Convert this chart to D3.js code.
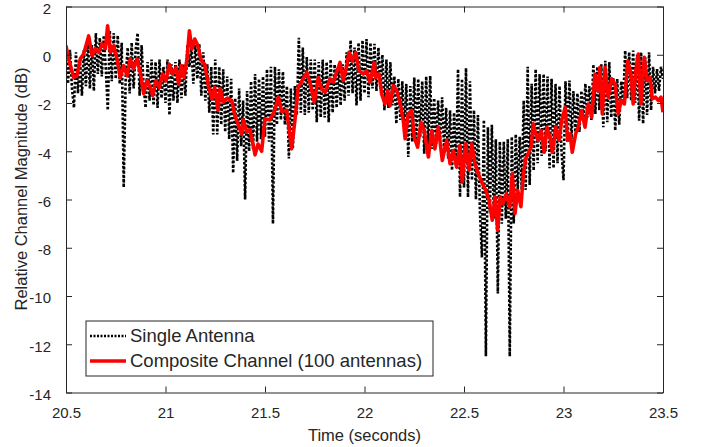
<!DOCTYPE html>
<html>
<head>
<meta charset="utf-8">
<script src="https://cdn.jsdelivr.net/npm/d3@7/dist/d3.min.js"></script>
<style>
  body { margin: 0; background: #fff; }
  svg text { font-family: "Liberation Sans", Arial, Helvetica, sans-serif; fill: #262626; }
</style>
</head>
<body>
<div id="chart"></div>
<script>
// x axis ticks and y axis ticks
var xTicks = [20.5, 21, 21.5, 22, 22.5, 23, 23.5];
var yTicks = [-14, -12, -10, -8, -6, -4, -2, 0, 2];

// single antenna, sampled every 0.01 s starting at 20.5 s
var singleStart = 20.5, singleStep = 0.01;
var singleDb = [
  0.4, -1.2, 0.2, -1.4, -2.2,   0.1, -1.6, -0.2, -1.7, 0.2,
  -1.3, 0.6, -1.4, 0.4, -1.5,   0.9, -0.8, 0.7, -0.9, 0.8,
  -0.6, -2.3, 1.0, -1.1, 0.9,   -1.0, 0.8, -1.2, 0.5, -5.5,
  -0.9, 0.3, -1.6, 0.5, -1.4,   0.2, 0.9, -1.7, 0.4, -1.3,
  -2.2, -0.3, -1.9, -0.2, -2.1, -0.3, -2.2, -0.2, -1.8, -0.5,
  -2.0, -0.2, -2.5, -0.4, -1.9, -0.3, -2.0, -0.2, -1.8, -0.4,
  -1.7, 0.4, -0.5, 0.3, -1.2,   0.4, -1.0, 0.45, -1.7, 0.1,
  -1.9, -0.4, -2.4, -0.5, -3.3, -0.2, -3.3, -0.5, -2.9, -0.6,
  -3.2, -0.9, -3.5, -1.0, -4.9, -1.8, -4.4, -1.4, -3.8, -1.9,
  -6.0, -1.5, -4.0, -1.1, -3.9, -0.8, -3.6, -1.0, -3.5, -0.9,
  -3.4, -0.6, -3.6, -0.5, -7.0, -0.5, -2.9, -0.6, -2.7, -0.7,
  -2.9, -1.3, -4.3, -1.4, -3.9, -1.3, -2.5, 0.7, -2.4, 0.3,
  -2.5, -0.1, -2.4, -0.2, -2.3, -0.2, -2.8, -0.3, -2.6, -0.2,
  -2.6, -0.3, -2.8, -0.2, -2.4, -0.4, -2.2, -0.5, -2.1, -0.4,
  -1.9, 0.1, -1.7, 0.6, -1.6,   0.3, -2.1, 0.5, -1.9, 0.6,
  -1.6, 0.65, -1.76, 0.5, -1.4, 0.45, -1.5, 0.3, -1.4, 0.0,
  -2.3, -0.2, -2.2, -0.3, -2.1, -0.9, -2.86, -1.0, -2.7, -1.1,
  -3.2, -1.2, -4.24, -1.3, -3.6, -0.94, -3.55, -1.0, -3.4, -1.1,
  -4.1, -0.9, -3.8, -0.87, -3.9, -1.8, -3.7, -1.9, -3.5, -1.76,
  -4.0, -2.2, -4.3, -2.3, -4.79, -2.4, -4.6, -0.6, -5.9, -1.0,
  -5.5, -0.55, -5.9, -1.1, -5.2, -2.3, -6.0, -2.5, -6.5, -8.4,
  -2.7, -12.5, -3.0, -6.5, -2.9, -6.8, -3.5, -9.9, -3.6, -7.0,
  -3.6, -6.8, -3.5, -12.5, -3.4, -7.0, -3.3, -5.6, -3.4, -5.6,
  -1.9, -5.6, -0.5, -5.4, -1.2, -4.8, -0.6, -4.5, -0.8, -4.2,
  -0.8, -4.0, -0.9, -4.7, -1.0, -4.7, -1.2, -4.5, -1.3, -4.0,
  -5.2, -1.1, -3.6, -1.07, -3.5, -1.5, -3.3, -1.6, -3.2, -1.5,
  -2.7, -1.2, -2.6, -1.3, -2.7, -0.4, -2.45, -0.5, -2.3, -0.4,
  -3.0, -0.25, -2.8, -0.3, -2.6, -0.94, -3.14, -1.0, -2.9, -1.1,
  -1.9, 0.17, -1.8, 0.1, -1.9,  0.17, -2.0, 0.0, -2.73, 0.1,
  -2.86, -0.1, -2.5, 0.1, -2.3, -0.5, -1.6, -0.6, -1.5, -0.5,
  -1.0
];

// composite channel (100 antennas)
var compositeTime = [
  20.5, 20.513, 20.539, 20.555, 20.572, 20.589, 20.614, 20.631, 20.647, 20.664,
  20.681, 20.698, 20.709, 20.723, 20.74, 20.756, 20.773, 20.79, 20.807, 20.823,
  20.84, 20.857, 20.873, 20.89, 20.907, 20.919, 20.935, 20.952, 20.969, 20.986,
  21.003, 21.019, 21.036, 21.053, 21.066, 21.079, 21.093, 21.108, 21.12, 21.133,
  21.147, 21.163, 21.18, 21.197, 21.217, 21.234, 21.247, 21.264, 21.275, 21.29,
  21.31, 21.333, 21.349, 21.383, 21.391, 21.408, 21.425, 21.45, 21.465, 21.483,
  21.5, 21.525, 21.547, 21.567, 21.584, 21.609, 21.634, 21.651, 21.667, 21.692,
  21.71, 21.726, 21.748, 21.768, 21.785, 21.802, 21.827, 21.843, 21.86, 21.877,
  21.893, 21.911, 21.922, 21.939, 21.956, 21.972, 21.994, 22.011, 22.028, 22.049,
  22.056, 22.073, 22.086, 22.103, 22.117, 22.128, 22.145, 22.162, 22.178, 22.195,
  22.204, 22.22, 22.237, 22.25, 22.267, 22.284, 22.3, 22.321, 22.338, 22.354,
  22.371, 22.391, 22.413, 22.43, 22.446, 22.463, 22.48, 22.491, 22.508, 22.525,
  22.539, 22.555, 22.572, 22.589, 22.609, 22.626, 22.642, 22.656, 22.669, 22.682,
  22.696, 22.713, 22.73, 22.743, 22.756, 22.77, 22.786, 22.798, 22.81, 22.823,
  22.837, 22.848, 22.86, 22.873, 22.887, 22.903, 22.916, 22.932, 22.944, 22.961,
  22.977, 22.991, 23.008, 23.021, 23.033, 23.044, 23.061, 23.074, 23.091, 23.108,
  23.125, 23.142, 23.158, 23.172, 23.183, 23.195, 23.209, 23.225, 23.242, 23.259,
  23.275, 23.289, 23.306, 23.323, 23.339, 23.35, 23.363, 23.376, 23.389, 23.406,
  23.42, 23.435, 23.446, 23.462, 23.477, 23.49, 23.5
];
var compositeDb = [
  0.37, -0.18, -0.94, -0.87, -0.17, 0.04, 0.78, -0.04, 0.25, 0.1,
  0.45, 0.25, 1.2, 0.1, 0.37, -0.17, -0.94, -0.45, -0.87, -0.17,
  -0.58, -0.17, -0.73, -1.6, -1.07, -1.28, -1.69, -1.07, -1.35, -0.8,
  -1.07, -0.39, -0.8, -0.52, -1.21, -0.45, -0.94, -0.18, 0.99, 0.24,
  0.65, 0.37, -0.25, -0.39, -1.35, -1.83, -1.35, -2.3, -1.4, -1.97,
  -1.8, -1.9, -2.52, -3.3, -2.7, -3.2, -3.1, -4.15, -3.7, -4.0,
  -2.65, -2.7, -2.35, -1.76, -2.35, -2.3, -3.9, -2.66, -1.35, -1.0,
  -0.73, -1.14, -1.97, -0.94, -1.42, -1.56, -1.0, -1.14, -0.73, -0.32,
  -1.07, -0.45, 0.1, -0.25, 0.1, -0.66, -0.8, -0.66, -1.14, -0.32,
  -0.94, -0.8, -1.62, -2.04, -1.49, -2.11, -1.28, -1.49, -1.97, -2.73,
  -3.48, -2.45, -2.31, -3.42, -3.83, -2.8, -3.14, -4.24, -3.14, -3.9,
  -3.0, -4.38, -3.55, -4.52, -3.97, -4.66, -3.76, -5.28, -3.69, -4.79,
  -3.69, -4.52, -4.93, -5.28, -5.62, -6.03, -6.86, -5.9, -7.27, -5.9,
  -6.17, -5.76, -6.31, -4.93, -6.58, -5.62, -6.3, -5.0, -4.3, -4.1,
  -3.83, -2.86, -3.28, -3.55, -3.14, -4.04, -3.0, -3.42, -4.04, -3.0,
  -3.55, -2.73, -2.18, -3.55, -3.28, -4.04, -3.28, -3.0, -2.31, -3.0,
  -2.04, -2.59, -0.8, -1.49, -0.52, -2.45, -0.52, -1.76, -1.0, -1.21,
  -2.45, -1.9, -2.04, -0.25, -0.8, -2.04, -0.66, 0.03, -2.04, -0.11,
  -1.07, -0.94, -1.83, -1.76, -1.9, -1.76, -2.38
];

var width = 707, height = 447;
var margin = { left: 66, right: 44, top: 6.5, bottom: 54.5 };
var plotW = width - margin.left - margin.right;
var plotH = height - margin.top - margin.bottom;

var svg = d3.select("#chart")
  .append("svg")
  .attr("width", width)
  .attr("height", height);

var g = svg.append("g")
  .attr("transform", `translate(${margin.left}, ${margin.top})`);

var x = d3.scaleLinear().domain([20.5, 23.5]).range([0, plotW]);
var y = d3.scaleLinear().domain([-14, 2]).range([plotH, 0]);

g.append("clipPath").attr("id", "plot-clip")
  .append("rect")
  .attr("width", plotW)
  .attr("height", plotH);

// lines
var singleLine = d3.line()
  .x(function (d, i) { return x(singleStart + i * singleStep); })
  .y(function (d) { return y(d); });

var compositeLine = d3.line()
  .x(function (d, i) { return x(compositeTime[i]); })
  .y(function (d) { return y(d); });

var lines = g.append("g").attr("clip-path", "url(#plot-clip)");

lines.append("path")
  .datum(singleDb)
  .attr("d", singleLine)
  .attr("fill", "none")
  .attr("stroke", "#000")
  .attr("stroke-width", 2.6)
  .attr("stroke-dasharray", "2.6,1.8");

lines.append("path")
  .datum(compositeDb)
  .attr("d", compositeLine)
  .attr("fill", "none")
  .attr("stroke", "#ff0000")
  .attr("stroke-width", 3.6)
  .attr("stroke-linejoin", "round");

// axes, MATLAB style: ticks inside, box on
var tickFmt = function (d) { return String(d); };

var xAxis = g.append("g")
  .attr("transform", `translate(0, ${plotH})`)
  .call(d3.axisBottom(x).tickValues(xTicks).tickFormat(tickFmt).tickSizeInner(-6).tickSizeOuter(0).tickPadding(15));
var xTop = g.append("g")
  .call(d3.axisTop(x).tickValues(xTicks).tickFormat("").tickSizeInner(-6).tickSizeOuter(0));
var yAxis = g.append("g")
  .call(d3.axisLeft(y).tickValues(yTicks).tickFormat(tickFmt).tickSizeInner(-6).tickSizeOuter(0).tickPadding(15));
var yRight = g.append("g")
  .attr("transform", `translate(${plotW}, 0)`)
  .call(d3.axisRight(y).tickValues(yTicks).tickFormat("").tickSizeInner(-6).tickSizeOuter(0));

[xAxis, xTop, yAxis, yRight].forEach(function (a) {
  a.selectAll("path.domain").attr("stroke", "#262626").attr("stroke-width", 1);
  a.selectAll(".tick line").attr("stroke", "#262626").attr("stroke-width", 1);
  a.selectAll(".tick text")
    .style("font-size", "15px")
    .style("font-family", "'Liberation Sans', Arial, Helvetica, sans-serif")
    .attr("fill", "#262626");
});
// labels sit a touch below their ticks, as in the original
yAxis.selectAll(".tick text").attr("dy", "0.45em");

// axis labels
svg.append("text")
  .attr("x", margin.left + plotW / 2)
  .attr("y", 441)
  .attr("text-anchor", "middle")
  .style("font-size", "16.5px")
  .text("Time (seconds)");

svg.append("text")
  .attr("transform", "translate(27, 189) rotate(-90)")
  .attr("text-anchor", "middle")
  .style("font-size", "16.5px")
  .text("Relative Channel Magnitude (dB)");

// legend
var legend = svg.append("g").attr("transform", "translate(86, 321)");
legend.append("rect")
  .attr("width", 347)
  .attr("height", 55)
  .attr("fill", "#fff")
  .attr("stroke", "#262626")
  .attr("stroke-width", 1);

var legendItems = [
  { label: "Single Antenna", color: "#000", width: 2.4, dash: "2,1.5" },
  { label: "Composite Channel (100 antennas)", color: "#ff0000", width: 3.6, dash: null }
];

legendItems.forEach(function (d, i) {
  var cy = 15 + i * 25;
  legend.append("line")
    .attr("x1", 4).attr("x2", 40)
    .attr("y1", cy).attr("y2", cy)
    .attr("stroke", d.color)
    .attr("stroke-width", d.width)
    .attr("stroke-dasharray", d.dash);
  legend.append("text")
    .attr("x", 44)
    .attr("y", cy)
    .attr("dy", "0.35em")
    .style("font-size", "18.5px")
    .text(d.label);
});
</script>
</body>
</html>
